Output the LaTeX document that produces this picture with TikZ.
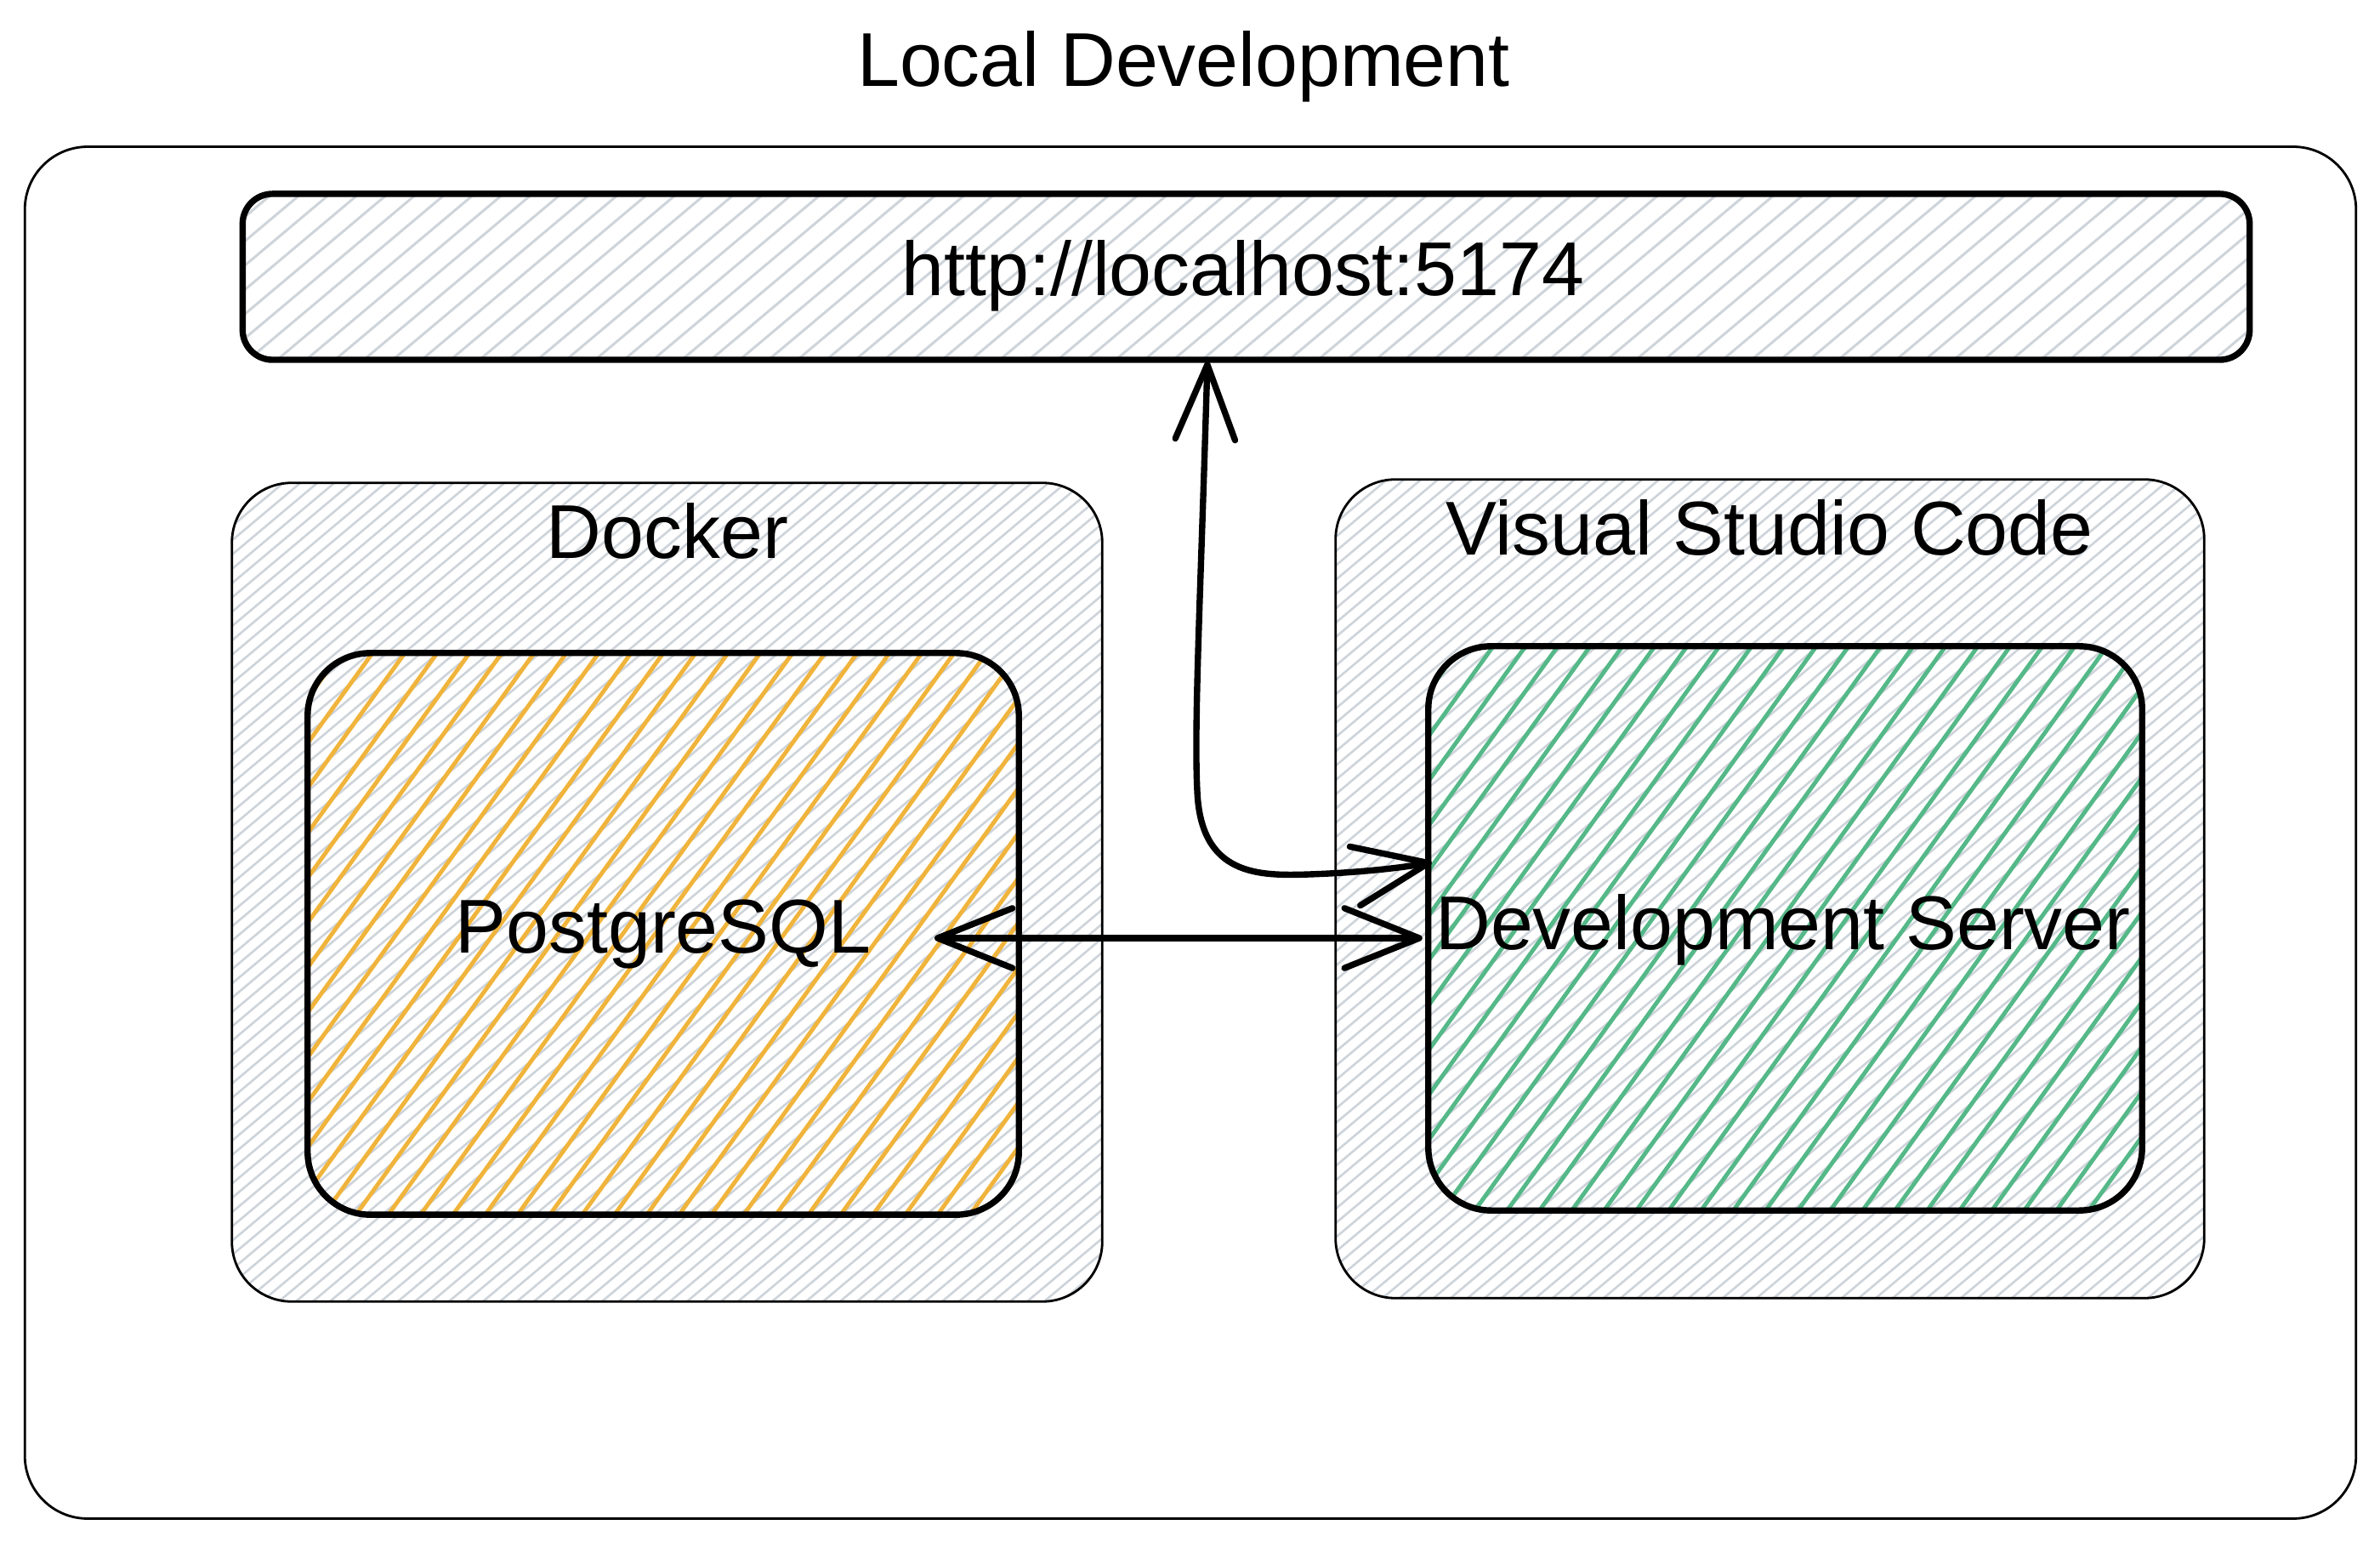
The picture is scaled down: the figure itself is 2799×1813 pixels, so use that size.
\documentclass[tikz,border=0pt]{standalone}
\usepackage{fontspec}
\setmainfont{Liberation Sans}
\usetikzlibrary{arrows.meta,calc}
\definecolor{hgray}{HTML}{CED4DA}
\definecolor{horange}{HTML}{F0B43C}
\definecolor{hgreen}{HTML}{55B888}
% #1 x1, #2 y1, #3 x2, #4 y2, #5 radius, #6 step, #7 colour, #8 line width, #9 cot(angle)
\newcommand\hatchbox[9]{%
  \begin{scope}
    \clip[rounded corners=#5] (#1,#2) rectangle (#3,#4);
    \pgfmathsetmacro\hh{(#4-#2)*#9}
    \pgfmathsetmacro\vv{#4-#2}
    \pgfmathsetmacro\xs{#1-\hh}
    \pgfmathsetmacro\xn{\xs+#6}
    \foreach \xx in {\xs,\xn,...,#3}
      \draw[#7,line width=#8] (\xx,#4) -- ++(\hh,-\vv);
  \end{scope}}
\begin{document}
\begin{tikzpicture}[x=0.01cm,y=-0.01cm,
  txt/.style={font=\fontsize{25.5}{30}\selectfont, inner sep=0pt, anchor=base},
  box/.style={draw=black, inner sep=0pt, outer sep=0pt},
  thinbox/.style={box, line width=0.8pt},
  thickbox/.style={box, line width=2.1pt},
  arr/.style={line width=2.1pt, line cap=round, line join=round,
    {Straight Barb[length=25pt,width=20pt,round]}-{Straight Barb[length=25pt,width=20pt,round]}}]
\useasboundingbox[fill=white] (0,0) rectangle (2799,1813);

% hatching
\hatchbox{286}{228}{2645}{423}{10pt}{34}{hgray}{0.85pt}{1.19}
\hatchbox{273}{568}{1296}{1530}{20pt}{20}{hgray}{0.75pt}{1.19}
\hatchbox{1571}{564}{2592}{1526}{20pt}{20}{hgray}{0.75pt}{1.19}
\hatchbox{362}{768}{1198}{1428}{21pt}{38}{horange}{1.4pt}{0.72}
\hatchbox{1680}{760}{2519}{1423}{21pt}{38}{hgreen}{1.4pt}{0.72}

% boxes
\node[thinbox, rounded corners=21pt, minimum width=27.40cm, minimum height=16.12cm] (outer) at (1400,979) {};
\node[thickbox, rounded corners=10pt, minimum width=23.59cm, minimum height=1.95cm] (url) at (1465.5,325.5) {};
\node[thinbox, rounded corners=20pt, minimum width=10.23cm, minimum height=9.62cm] (docker) at (784.5,1049) {};
\node[thinbox, rounded corners=20pt, minimum width=10.21cm, minimum height=9.62cm] (vscode) at (2081.5,1045) {};
\node[thickbox, rounded corners=21pt, minimum width=8.36cm, minimum height=6.60cm] (pg) at (780,1098) {};
\node[thickbox, rounded corners=21pt, minimum width=8.39cm, minimum height=6.63cm] (dev) at (2099.5,1091.5) {};

% texts
\node[txt] (title) at (1392,102) {Local Development};
\node[txt] (urltext) at (1462,348) {http://localhost:5174};
\node[txt] (dockertext) at (785,657) {Docker};
\node[txt] (vstext) at (2081,653) {Visual Studio Code};
\node[txt] (pgtext) at (780,1121) {PostgreSQL};
\node[txt] (devtext) at (2097,1117) {Development Server};

% connectors
\draw[arr] ($(pg.center)+(319,5)$) -- ($(dev.west)+(-7,11.5)$);
\draw[arr] ($(url.south)+(-45.5,2)$) .. controls (1412,700) and (1404,850) .. (1408,930)
  .. controls (1412,1030) and (1480,1030) .. (1540,1028)
  .. controls (1600,1026) and (1650,1020) .. ($(dev.west)+(4,-77.5)$);
\end{tikzpicture}
\end{document}
